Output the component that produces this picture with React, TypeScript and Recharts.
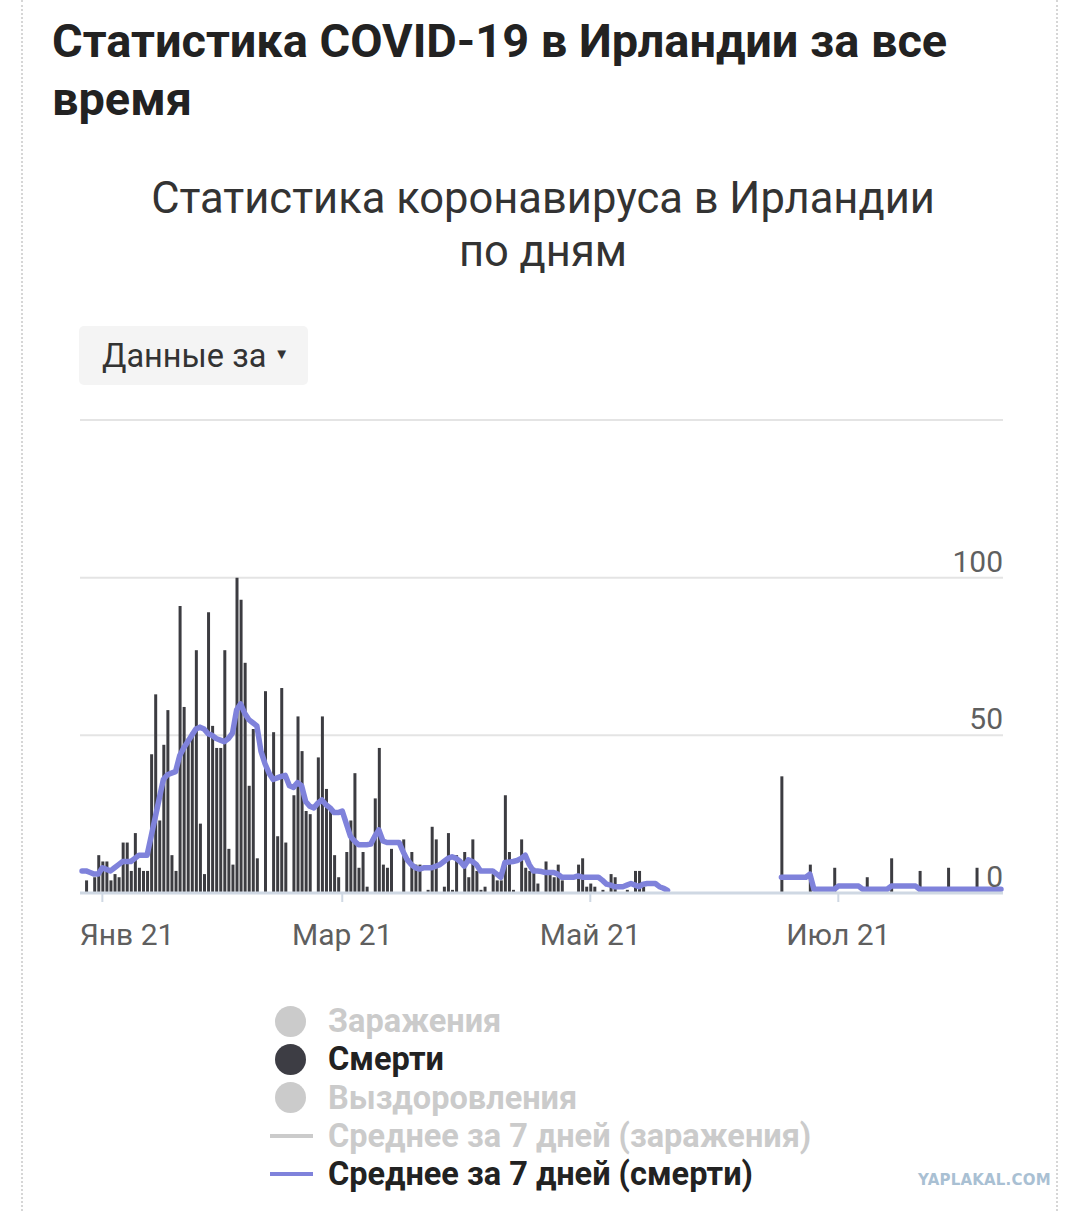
import React from 'react';
import { ComposedChart, Bar, Line, XAxis, YAxis, CartesianGrid } from 'recharts';

const FONT = 'Roboto, "Noto Sans", sans-serif';
const START = Date.UTC(2020, 11, 27);
const DAY = 86400000;

// daily deaths, from 27 Dec 2020
const DEATHS = [
  0, 4, 0, 5, 12, 10, 10, 4, 6, 5,
  16, 16, 7, 19, 8, 7, 7, 44, 63, 23,
  47, 58, 12, 7, 91, 59, 49, 51, 77, 22,
  6, 89, 53, 46, 46, 77, 14, 9, 100, 93,
  73, 34, 52, 11, 0, 64, 0, 51, 18, 65,
  16, 0, 31, 56, 45, 26, 25, 0, 43, 56,
  33, 26, 12, 5, 0, 13, 23, 38, 8, 13,
  2, 0, 30, 46, 9, 8, 14, 0, 0, 17,
  0, 13, 9, 9, 0, 1, 21, 17, 0, 2,
  19, 1, 12, 0, 13, 5, 17, 7, 1, 2,
  0, 6, 4, 4, 31, 13, 1, 0, 17, 8,
  7, 8, 3, 0, 10, 6, 5, 9, 4, 0,
  0, 0, 9, 11, 2, 3, 2, 0, 1, 0,
  6, 5, 0, 0, 1, 0, 7, 7, 2, 0,
  0, 0, 0, 0, 0,
  null, null, null, null, null, null, null, null, null, null,
  null, null, null, null, null, null, null, null, null, null,
  null, null, null, null, null, null, null,
  37, 0, 0, 0, 0, 0, 0, 9, 0, 0,
  0, 0, 0, 8, 0, 0, 0, 0, 0, 0,
  0, 5, 0, 0, 0, 0, 0, 11, 0, 0,
  0, 0, 0, 0, 7, 0, 0, 0, 0, 0,
  0, 8, 0, 0, 0, 0, 0, 0, 8, 0,
  0, 0, 0, 0, 0,
];

// 7-day average of deaths as drawn
const AVG7 = [
  7, 7, 6.5, 6, 6, 8, 7.5, 7, 8, 9,
  10, 10, 10, 11, 12, 12, 12, 18, 24, 30,
  36, 37.5, 38, 38.5, 43.5, 46, 48, 50, 52, 52.6,
  52, 50.5, 50, 49, 48.5, 48, 49, 50.7, 58, 60,
  57, 55, 54, 53, 45, 41, 38, 36, 36.5, 37,
  37.3, 34, 33.5, 35, 34, 29, 27.5, 27, 28.5, 29.5,
  28, 27, 25.5, 25.5, 26, 22, 18, 16.5, 15.3, 15.3,
  15.3, 15.5, 18, 20, 16.5, 16, 16, 16, 16, 13,
  10.5, 9, 8, 7.6, 8, 8, 8, 8.5, 9, 10,
  11, 11.5, 11, 10, 8.5, 10.5, 10, 9, 7, 7,
  7, 7, 6, 5, 9.7, 9.8, 10, 10.3, 11, 12,
  9, 7, 7, 6.8, 6.5, 6.5, 6.5, 6, 5, 5,
  5, 5, 5.4, 5, 5, 5, 5, 5, 4, 2.8,
  2.5, 2, 2, 2, 2.5, 3, 2.5, 2, 2.8, 3,
  3, 3, 2, 1.5, 0.8,
  null, null, null, null, null, null, null, null, null, null,
  null, null, null, null, null, null, null, null, null, null,
  null, null, null, null, null, null, null,
  5, 5, 5, 5, 5, 5, 5, 6, 1.2, 1.2,
  1.2, 1.2, 1.2, 1.2, 2.2, 2.2, 2.2, 2.2, 2.2, 2.2,
  1.2, 1.2, 1.2, 1.2, 1.2, 1.2, 1.2, 2.2, 2.2, 2.2,
  2.2, 2.2, 2.2, 2.2, 1.2, 1.2, 1.2, 1.2, 1.2, 1.2,
  1.2, 1.2, 1.2, 1.2, 1.2, 1.2, 1.2, 1.2, 1.2, 1.2,
  1.2, 1.2, 1.2, 1.2, 1.2,
];

const X_TICKS = ['2021-01-01', '2021-03-01', '2021-05-01', '2021-07-01'];
const X_LABELS = ['Янв 21', 'Мар 21', 'Май 21', 'Июл 21'];
const Y_TICKS = [0, 50, 100, 150];

const LEGEND = [
  { label: 'Заражения', kind: 'dot', color: '#cbcbcb', on: false },
  { label: 'Смерти', kind: 'dot', color: '#3d3d44', on: true },
  { label: 'Выздоровления', kind: 'dot', color: '#cbcbcb', on: false },
  { label: 'Среднее за 7 дней (заражения)', kind: 'line', color: '#cbcbcb', on: false },
  { label: 'Среднее за 7 дней (смерти)', kind: 'line', color: '#7f82db', on: true },
];

const data = DEATHS.map((d, i) => ({
  date: new Date(START + i * DAY).toISOString().slice(0, 10),
  deaths: d,
  avg: AVG7[i],
}));

const XTick = ({ x, y, payload, index }: any) => {
  const i = X_TICKS.indexOf(payload.value);
  const tx = index === 0 ? Math.max(x, 127) : x;
  return (
    <text x={tx} y={y + 41} textAnchor="middle" fill="#5f5f5f" fontSize={30} fontFamily={FONT}>
      {X_LABELS[i]}
    </text>
  );
};

const YTick = ({ x, y, payload }: any) => {
  if (payload.value === 150) return <g />;
  return (
    <text x={x} y={y - 6} textAnchor="end" fill="#5f5f5f" fontSize={30} fontFamily={FONT}>
      {payload.value}
    </text>
  );
};

function ChartLegend() {
  return (
    <div style={{ position: 'absolute', left: 268, top: 1002, fontFamily: FONT }}>
      {LEGEND.map((it) => (
        <div key={it.label} style={{ display: 'flex', alignItems: 'center', height: 38.3 }}>
          <div style={{ width: 60, display: 'flex', alignItems: 'center' }}>
            {it.kind === 'dot' ? (
              <div style={{ width: 31, height: 31, borderRadius: '50%', background: it.color, marginLeft: 7 }} />
            ) : (
              <div style={{ width: 43, height: 4, background: it.color, marginLeft: 2 }} />
            )}
          </div>
          <span style={{ fontSize: 32.5, fontWeight: 700, color: it.on ? '#222222' : '#cbcbcb', lineHeight: '38px' }}>
            {it.label}
          </span>
        </div>
      ))}
    </div>
  );
}

export default function App() {
  return (
    <div style={{ position: 'absolute', left: 0, top: 0, width: 1080, height: 1211, background: '#fff', overflow: 'hidden' }}>
      <div style={{ position: 'absolute', left: 21, top: 0, height: 1211, borderLeft: '2px dotted #d6d6d6' }} />
      <div style={{ position: 'absolute', left: 1056, top: 0, height: 1211, borderLeft: '2px dotted #d6d6d6' }} />

      <div style={{ position: 'absolute', left: 52, top: 12, width: 990, fontFamily: FONT, fontWeight: 700, fontSize: 46.9, lineHeight: '58px', color: '#222' }}>
        Статистика COVID-19 в Ирландии за все время
      </div>

      <div style={{ position: 'absolute', left: 133, top: 172, width: 820, textAlign: 'center', fontFamily: FONT, fontSize: 43.5, lineHeight: '53px', color: '#333' }}>
        Статистика коронавируса в Ирландии по дням
      </div>

      <div style={{ position: 'absolute', left: 79, top: 326, width: 229, height: 59, background: '#f4f4f4', borderRadius: 5, fontFamily: FONT, fontSize: 32.5, color: '#333', display: 'flex', alignItems: 'center' }}>
        <span style={{ marginLeft: 23 }}>Данные за</span>
        <span style={{ fontSize: 15, marginLeft: 8, marginTop: -4 }}>▼</span>
      </div>

      <div style={{ position: 'absolute', left: 0, top: 400 }}>
        <ComposedChart width={1080} height={560} data={data} margin={{ top: 20, right: 77, bottom: 0, left: 80 }}>
          <CartesianGrid vertical={false} stroke="#e4e4e4" strokeWidth={2} />
          <XAxis
            dataKey="date"
            ticks={X_TICKS}
            interval={0}
            height={67}
            axisLine={{ stroke: '#cfd8e3', strokeWidth: 3 }}
            tickLine={{ stroke: '#cfd8e3', strokeWidth: 2 }}
            tickSize={9}
            tick={<XTick />}
          />
          <YAxis
            orientation="right"
            width={40}
            mirror
            domain={[0, 150]}
            ticks={Y_TICKS}
            axisLine={false}
            tickLine={false}
            tickSize={0}
            tickMargin={0}
            tick={<YTick />}
          />
          <Bar dataKey="deaths" fill="#3c3c41" barSize={3} isAnimationActive={false} />
          <Line
            dataKey="avg"
            type="linear"
            stroke="#7f82db"
            strokeWidth={5.5}
            strokeLinejoin="round"
            strokeLinecap="round"
            dot={false}
            activeDot={false}
            isAnimationActive={false}
          />
        </ComposedChart>
      </div>

      <ChartLegend />

      <div style={{ position: 'absolute', left: 918, top: 1171, fontFamily: '"DejaVu Sans", sans-serif', fontWeight: 700, fontSize: 15, letterSpacing: 0.2, color: '#a9c0d3' }}>
        YAPLAKAL.COM
      </div>
    </div>
  );
}
